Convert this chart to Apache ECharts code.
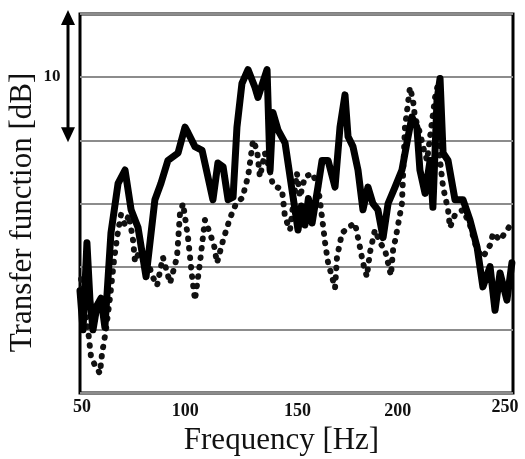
<!DOCTYPE html>
<html>
<head>
<meta charset="utf-8">
<script src="https://cdn.jsdelivr.net/npm/echarts@6/dist/echarts.min.js"></script>
<style>html,body{margin:0;padding:0;background:#fff}#c{width:525px;height:459px}</style>
</head>
<body>
<div id="c"></div>
<script>
// Frequency axis tick labels
var xTicks = [50, 100, 150, 200, 250];
// Axis titles
var xTitle = 'Frequency [Hz]';
var yTitle = 'Transfer function [dB]';
// Solid series: frequency (Hz) and level (dB)
var solidFreq = [50, 51.4, 53.2, 54.6, 56.0, 57.9, 59.7, 61.5, 64.3, 67.6, 70.8, 73.6, 76.8, 80.5, 84.6, 87.4, 90.6, 95.3, 98.5, 99.9,
  103.1, 106.4, 109.1, 111.4, 113.7, 116.1, 118.4, 120.7, 122.5, 124.8, 127.6, 130.8, 132.2, 136.4, 137.8, 139.1, 141.5, 144.7, 147.9, 150.7,
  152.3, 153.9, 155.5, 157.2, 159.9, 161.8, 164.6, 167.8, 170.1, 172.4, 173.8, 176.1, 178.4, 180.7, 183.0, 185.3, 187.6, 190.0, 192.3, 195.5, 198.7, 201.0,
  203.3, 205.6, 207.0, 209.4, 211.7, 213.0, 214.9, 216.3, 217.7, 220.0, 223.2, 226.9, 230.1, 233.4, 236.1, 239.4, 241.7, 244.0, 247.2, 249.5];
var solidDb = [8.1, 5.0, 11.9, 7.35, 5.0, 6.95, 7.5, 5.2, 12.66, 16.6, 17.65, 14.5, 13.1, 9.2, 15.3, 16.6, 18.4, 19.0, 21.05, 20.6,
  19.5, 19.2, 17.1, 15.3, 18.2, 17.9, 15.3, 15.5, 21.05, 24.5, 25.6, 24.2, 23.4, 25.6, 17.65, 22.2, 20.8, 19.8, 16.1, 12.9,
  14.8, 13.3, 15.4, 13.45, 16.3, 18.4, 18.4, 16.3, 21.05, 23.6, 20.3, 19.5, 17.65, 14.5, 16.3, 15.0, 14.5, 12.3, 15.0, 16.3, 17.65, 19.8,
  21.85, 21.05, 17.65, 15.8, 18.4, 14.7, 23.2, 24.9, 19.0, 18.4, 15.3, 15.3, 13.7, 11.55, 8.4, 10.0, 6.55, 9.5, 7.35, 10.3];
// Dotted series: frequency (Hz) and level (dB)
var dottedFreq = [50.5, 52.3, 53.7, 55.1, 56.9, 59.2, 60.2, 62.0, 63.9, 65.7, 67.1, 68.9, 70.8, 72.6, 74.5, 75.4, 77.7, 80.5, 83.3, 85.6,
  88.3, 91.6, 94.8, 96.2, 97.6, 99.9, 101.7, 103.1, 105.4, 107.7, 110.0, 111.9, 113.3, 116.1, 119.3, 122.1, 125.3, 126.2, 127.6, 128.5,
  129.9, 131.8, 133.1, 135.4, 137.8, 139.1, 143.3, 144.7, 147.0, 150.2, 151.6, 153.9, 157.2, 159.9, 161.8, 163.2, 164.6, 166.4, 167.8, 168.7,
  171.0, 173.8, 177.0, 179.3, 180.7, 182.5, 183.9, 186.2, 188.6, 190.9, 193.6, 194.6, 195.9, 198.7, 200.1, 202.4, 203.8, 204.7, 207.0, 208.9,
  210.3, 211.7, 214.0, 215.4, 216.3, 217.7, 220.0, 220.9, 223.2, 226.9, 230.1, 233.4, 236.1, 239.4, 240.8, 244.0, 247.2, 249.5];
var dottedDb = [9.0, 6.55, 5.0, 2.85, 2.2, 1.55, 3.15, 5.0, 7.6, 10.5, 12.3, 14.1, 13.3, 14.1, 12.1, 10.4, 11.3, 10.9, 9.3, 8.5,
  10.75, 8.7, 10.75, 14.25, 15.0, 12.3, 9.3, 7.35, 10.3, 13.7, 12.65, 11.7, 10.3, 12.1, 13.85, 15.0, 15.5, 16.3, 17.1, 18.2,
  20.0, 19.2, 17.1, 19.0, 17.5, 16.45, 16.1, 13.9, 12.9, 17.4, 15.5, 17.1, 17.4, 16.45, 13.9, 11.9, 10.3, 9.2, 8.3, 10.75,
  12.65, 13.1, 13.45, 11.55, 10.3, 9.2, 11.1, 12.9, 11.9, 11.3, 9.3, 11.3, 12.35, 15.0, 21.05, 24.2, 23.2, 21.85, 20.6, 19.2,
  18.4, 20.3, 23.4, 24.5, 18.4, 16.3, 14.5, 13.1, 14.1, 14.5, 13.3, 11.3, 10.75, 11.7, 12.65, 12.1, 12.9, 13.45];
// Scale bar: 10 dB
var scaleTop = 30, scaleBottom = 20, scaleLabel = '10';

function zip(a, b) { return a.map(function (v, i) { return [v, b[i]]; }); }

var labelFont = { fontFamily: 'Liberation Serif', fontWeight: 'bold', fontSize: 18, color: '#111' };
function rs(pt, pr, pl) { return Object.assign({ padding: [pt, pr, 0, pl] }, labelFont); }

var chart = echarts.init(document.getElementById('c'), null, { renderer: 'canvas' });
chart.setOption({
  animation: false,
  backgroundColor: '#fff',
  grid: { left: 80, right: 12, top: 14, bottom: 66, show: true, borderColor: '#000', borderWidth: 3, backgroundColor: 'transparent' },
  xAxis: {
    type: 'value', min: 50, max: 250, interval: 50,
    axisLine: { show: false }, axisTick: { show: false }, splitLine: { show: false },
    axisLabel: {
      margin: 5, hideOverlap: false, showMinLabel: true, showMaxLabel: true,
      formatter: function (v) { return xTicks.indexOf(v) >= 0 ? '{t' + v + '|' + v + '}' : ''; },
      rich: {
        t50: rs(0, 0, 4), t100: rs(4, 6, 0), t150: rs(4, 0, 2), t200: rs(4, 14, 0), t250: rs(0, 16, 0)
      }
    }
  },
  yAxis: {
    type: 'value', min: 0, max: 30, interval: 5,
    axisLine: { show: false }, axisTick: { show: false }, axisLabel: { show: false },
    splitLine: { show: true, lineStyle: { color: '#8c8c8c', width: 2 } }
  },
  series: [
    { type: 'line', data: zip(dottedFreq, dottedDb), showSymbol: false, z: 2,
      lineStyle: { color: '#111', width: 6, type: [0.5, 9], cap: 'round', join: 'round' } },
    { type: 'line', data: zip(solidFreq, solidDb), showSymbol: false, z: 3,
      lineStyle: { color: '#000', width: 7, cap: 'round', join: 'round' } }
  ]
});

var pTop = chart.convertToPixel({ gridIndex: 0 }, [50, scaleTop]);
var pBot = chart.convertToPixel({ gridIndex: 0 }, [50, scaleBottom]);
var pMid = chart.convertToPixel({ gridIndex: 0 }, [150, 15]);
var ax = 68, t = pTop[1] - 4, b = pBot[1] + 2;
var titleFont = { fontFamily: 'Liberation Serif', fontSize: 31, fill: '#111', align: 'center', verticalAlign: 'middle' };
chart.setOption({
  graphic: [
    { type: 'line', shape: { x1: ax, y1: t + 10, x2: ax, y2: b - 10 }, style: { stroke: '#000', lineWidth: 3 } },
    { type: 'polygon', shape: { points: [[ax, t], [ax - 7, t + 15], [ax + 7, t + 15]] }, style: { fill: '#000' } },
    { type: 'polygon', shape: { points: [[ax, b], [ax - 7, b - 15], [ax + 7, b - 15]] }, style: { fill: '#000' } },
    { type: 'text', x: 52, y: pTop[1] + (pBot[1] - pTop[1]) / 2 - 1, style: { text: scaleLabel,
      fontFamily: 'Liberation Serif', fontWeight: 'bold', fontSize: 17, fill: '#111', align: 'center', verticalAlign: 'middle' } },
    { type: 'text', x: pMid[0] - 15, y: 441, style: Object.assign({ text: xTitle }, titleFont) },
    { type: 'text', x: 23, y: pMid[1] + 9, rotation: Math.PI / 2, style: Object.assign({ text: yTitle }, titleFont) }
  ]
});
</script>
</body>
</html>
